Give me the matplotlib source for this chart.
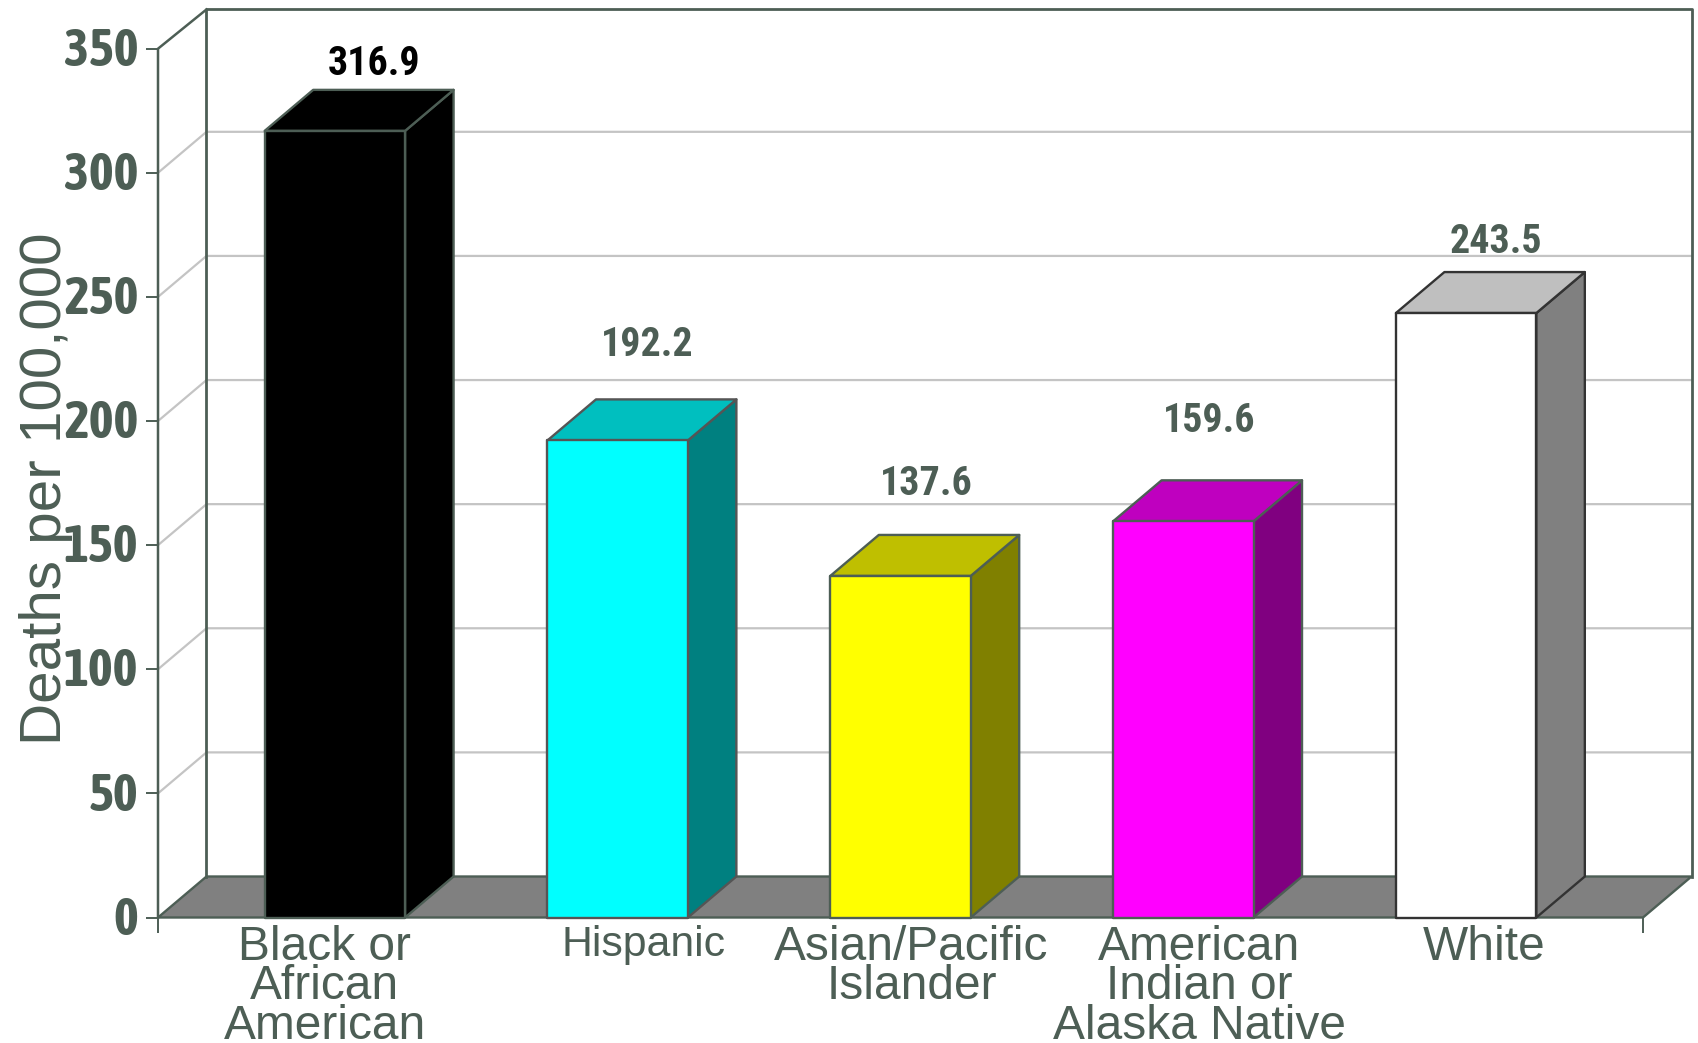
import matplotlib
matplotlib.use("Agg")
import matplotlib.pyplot as plt
from matplotlib.patches import Polygon
from matplotlib.transforms import ScaledTranslation

categories = ["Black or\nAfrican\nAmerican", "Hispanic", "Asian/Pacific\nIslander",
              "American\nIndian or\nAlaska Native", "White"]
values = [316.9, 192.2, 137.6, 159.6, 243.5]
y_ticks = [0, 50, 100, 150, 200, 250, 300, 350]
y_label = "Deaths per 100,000"

# Face colours: front, top, side
front_colors = ["#000000", "#00ffff", "#ffff00", "#ff00ff", "#ffffff"]
top_colors = ["#000000", "#00bfbf", "#bfbf00", "#bf00bf", "#bfbfbf"]
side_colors = ["#000000", "#008080", "#808000", "#800080", "#808080"]
edge_colors = ["#4d5e55", "#555555", "#4d5e55", "#4d5e55", "#333333"]
value_colors = ["#000000", "#4d5e55", "#4d5e55", "#4d5e55", "#4d5e55"]

INK = "#4d5e55"
GRID = "#c4c4c4"
FLOOR = "#808080"
TICK_FONT = ["Asap Condensed", "Liberation Sans"]
VALUE_FONT = ["Roboto Condensed", "Liberation Sans"]
SANS = ["Liberation Sans"]

W, H = 1698, 1043
X0, X1, Y0, Y350 = 158.0, 1643.0, 917.5, 48.7

fig = plt.figure(figsize=(W / 100, H / 100), dpi=100, facecolor="white")
ax = fig.add_axes([X0 / W, 1 - Y0 / H, (X1 - X0) / W, (Y0 - Y350) / H])
ax.set_ylim(0, 350)
slot = 283.0
left_pad = 177.0 / slot
ax.set_xlim(-left_pad, len(values) - 1 + left_pad)
for s in ax.spines.values():
    s.set_visible(False)
ax.patch.set_alpha(0)

# Depth of the oblique projection, in data units
px_x = (X1 - X0) / (ax.get_xlim()[1] - ax.get_xlim()[0])
px_y = (Y0 - Y350) / 350
DX = 48.5 / px_x
DY = 41.0 / px_y
bar_w = 140.5 / slot
xmin, xmax = ax.get_xlim()


def poly(pts, fc, ec, lw=1.7, z=2):
    ax.add_patch(Polygon(pts, closed=True, facecolor=fc, edgecolor=ec, linewidth=lw,
                         zorder=z, clip_on=False, joinstyle="round"))


# Floor and back wall
poly([(xmin, 0), (xmax, 0), (xmax + DX, DY), (xmin + DX, DY)], FLOOR, INK, z=1.5)
ax.plot([xmin + DX, xmin + DX, xmax + DX, xmax + DX], [DY, 350 + DY - 0.7, 350 + DY - 0.7, DY],
        color=INK, lw=2.0, zorder=1.6, clip_on=False)
ax.plot([xmin, xmin, xmin + DX], [0, 350, 350 + DY - 0.7], color=INK, lw=1.8, zorder=1.6, clip_on=False)

# Gridlines across the side wall and the back wall
for t in y_ticks[1:-1]:
    ax.plot([xmin, xmin + DX, xmax + DX], [t, t + DY, t + DY], color=GRID, lw=1.6,
            zorder=1.2, clip_on=False)

# Oblique bars
for i, v in enumerate(values):
    l, r = i - bar_w / 2, i + bar_w / 2
    ec = edge_colors[i]
    poly([(r, 0), (r + DX, DY), (r + DX, v + DY), (r, v)], side_colors[i], ec)
    poly([(l, v), (r, v), (r + DX, v + DY), (l + DX, v + DY)], top_colors[i], ec)
    poly([(l, 0), (r, 0), (r, v), (l, v)], front_colors[i], ec)

# Axes ticks
ax.set_yticks(y_ticks)
ax.tick_params(axis="y", length=8.6, width=1.4, color=INK, pad=5.5, labelcolor=INK)
nudge = ScaledTranslation(0, 2 / 72, fig.dpi_scale_trans)
for lab in ax.get_yticklabels():
    lab.set_fontfamily(TICK_FONT)
    lab.set_fontweight("bold")
    lab.set_fontsize(38)
    lab.set_transform(lab.get_transform() + nudge)
ax.set_xticks([xmin, xmax])
ax.set_xticklabels(["", ""])
ax.tick_params(axis="x", length=10.5, width=1.4, color=INK)

# Value labels, offset from the top-front of each bar (pixels)
label_dx = [39, 30, 26, 26, 30]
label_dy = [71, 99, 96, 104, 75]
for i, v in enumerate(values):
    ax.annotate(f"{v:.1f}", (i, v), xytext=(label_dx[i] * 0.72, label_dy[i] * 0.72),
                textcoords="offset points", ha="center", va="center_baseline",
                fontsize=28.8, fontweight="bold", family=VALUE_FONT, color=value_colors[i],
                annotation_clip=False)

# Category labels, placed by hand under each bar (pixels)
cat_dx = [-10, 26, 11, 16, 18]
cat_size = [34.5, 30.8, 34.5, 34.5, 34.5]
for i, c in enumerate(categories):
    ax.annotate(c, (i, 0), xytext=(cat_dx[i] * 0.72, -5.2),
                textcoords="offset points", ha="center", va="top", multialignment="center",
                fontsize=cat_size[i], family=SANS, color=INK, linespacing=0.85,
                annotation_clip=False)

fig.text(46.5 / W, 1 - 489 / H, y_label, rotation=90, ha="center", va="center",
         fontsize=42, family=SANS, color=INK)

fig.savefig("out.png", dpi=100, facecolor="white")
